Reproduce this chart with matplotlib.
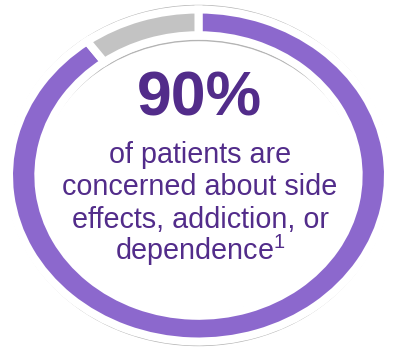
import matplotlib
matplotlib.use("Agg")
import matplotlib.pyplot as plt
from matplotlib.patches import Ellipse

# data
shares = [90, 10]
share_labels = ["Concerned", "Not concerned"]
share_colors = ["#8C68CD", "#C3C3C3"]
headline = "90%"
body_lines = ["of patients are", "concerned about side", "effects, addiction, or", "dependence$^{\\mathrm{1}}$"]

plt.rcParams['font.family'] = ['Liberation Sans', 'DejaVu Sans']
plt.rcParams['mathtext.fontset'] = 'custom'
plt.rcParams['mathtext.rm'] = 'Liberation Sans'

W, H = 395, 347
fig = plt.figure(figsize=(W / 100, H / 100), dpi=100)

# background axes in pixel coordinates
ax = fig.add_axes([0, 0, 1, 1])
ax.set_xlim(0, W)
ax.set_ylim(H, 0)
ax.axis('off')

cx, cy = 198.5, 175.5
ax.add_patch(Ellipse((cx, cy), 2 * 191.5, 2 * 170, fill=False, ec="#B4B4B4", lw=1.0))
ax.add_patch(Ellipse((cx, cy + 1.5), 2 * 159, 2 * 136.5, fill=False, ec="#B4B4B4", lw=1.0))

# ring
a, b = 189.5, 166
pax = fig.add_axes([(cx - a) / W, (H - cy - b) / H, 2 * a / W, 2 * b / H])
pax.pie(shares, colors=share_colors, startangle=90, counterclock=False,
        radius=1, wedgeprops=dict(width=0.155, edgecolor="white", linewidth=5.8))
pax.set_aspect('auto')
pax.set_xlim(-1, 1)
pax.set_ylim(-1, 1)
pax.axis('off')

txt_color = "#522C8A"
ax.text(199, 115, headline, ha='center', va='baseline', fontsize=45, fontweight='bold', color=txt_color)
baselines = [163, 195, 227.5, 260]
for line, y in zip(body_lines, baselines):
    ax.text(200, y, line, ha='center', va='baseline', fontsize=20.7, color=txt_color)

fig.savefig("out.png", dpi=100)
